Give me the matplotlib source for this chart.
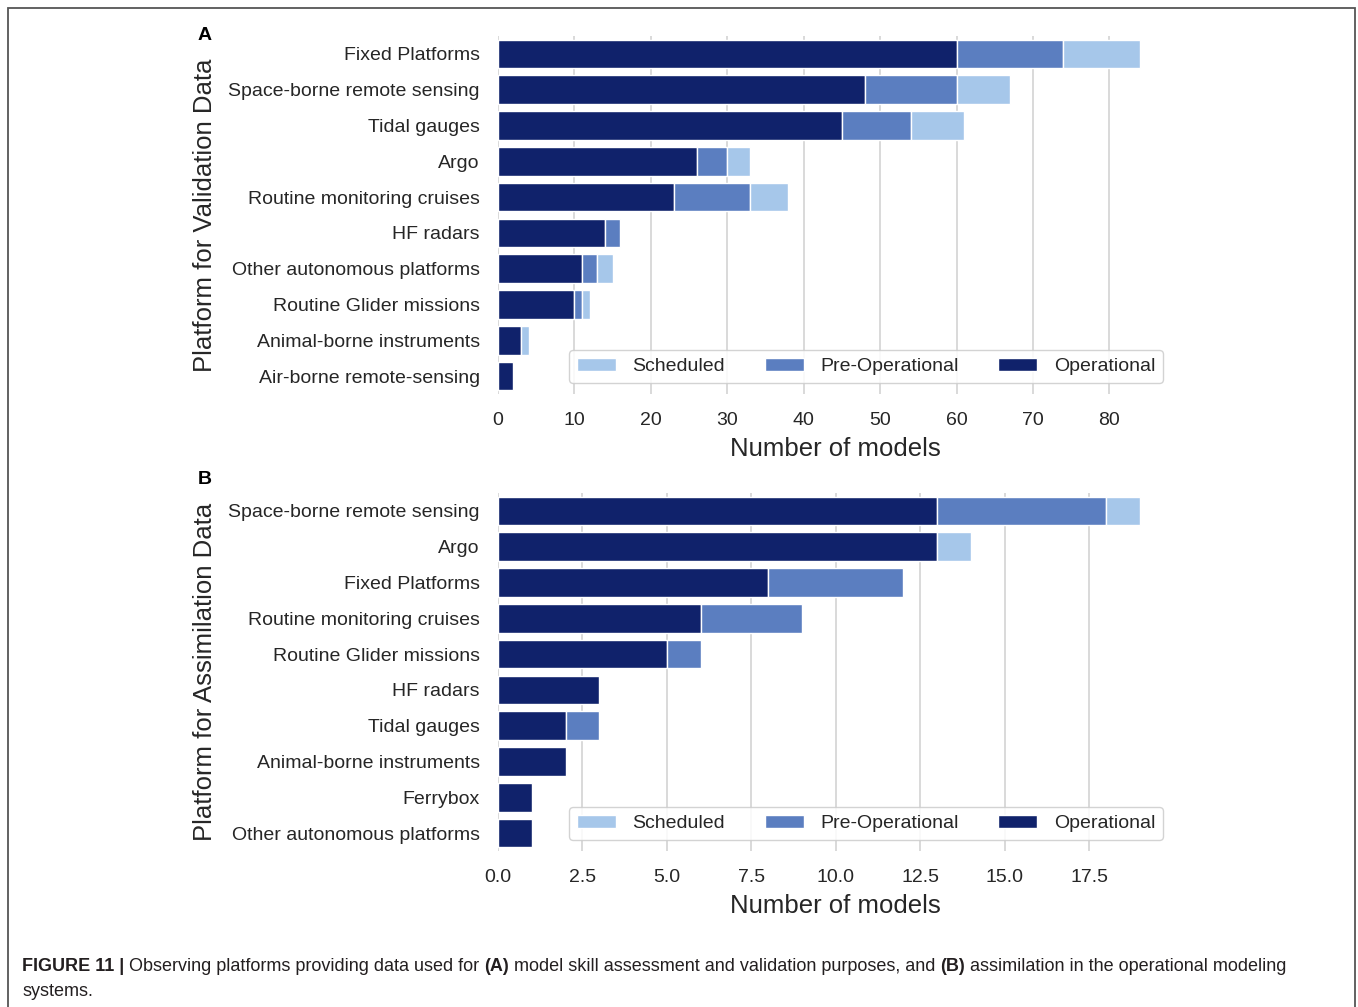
import matplotlib
matplotlib.use("Agg")
import matplotlib.pyplot as plt
from matplotlib.patches import Rectangle, Patch
import numpy as np

# ---------------- data ----------------
val_platforms = ["Fixed Platforms", "Space-borne remote sensing", "Tidal gauges", "Argo",
                 "Routine monitoring cruises", "HF radars", "Other autonomous platforms",
                 "Routine Glider missions", "Animal-borne instruments", "Air-borne remote-sensing"]
val_operational = [60, 48, 45, 26, 23, 14, 11, 10, 3, 2]
val_preoperational = [14, 12, 9, 4, 10, 2, 2, 1, 0, 0]
val_scheduled = [10, 7, 7, 3, 5, 0, 2, 1, 1, 0]
val_xticks = [0, 10, 20, 30, 40, 50, 60, 70, 80]

ass_platforms = ["Space-borne remote sensing", "Argo", "Fixed Platforms", "Routine monitoring cruises",
                 "Routine Glider missions", "HF radars", "Tidal gauges", "Animal-borne instruments",
                 "Ferrybox", "Other autonomous platforms"]
ass_operational = [13, 13, 8, 6, 5, 3, 2, 2, 1, 1]
ass_preoperational = [5, 0, 4, 3, 1, 0, 1, 0, 0, 0]
ass_scheduled = [1, 1, 0, 0, 0, 0, 0, 0, 0, 0]
ass_xticks = [0.0, 2.5, 5.0, 7.5, 10.0, 12.5, 15.0, 17.5]

status_labels = ["Scheduled", "Pre-Operational", "Operational"]
status_colors = ["#a6c7ea", "#5b7ec0", "#10226b"]

caption_parts = [("FIGURE 11 | ", True), ("Observing platforms providing data used for ", False),
                 ("(A)", True), (" model skill assessment and validation purposes, and ", False),
                 ("(B)", True), (" assimilation in the operational modeling", False)]
caption_line2 = "systems."

# ---------------- figure ----------------
W, H = 1358, 1007
fig = plt.figure(figsize=(W / 100, H / 100), dpi=100)
plt.rcParams['font.family'] = ['Liberation Sans', 'DejaVu Sans']
TXT = "#262626"


def px_axes(l, r, t, b):
    return fig.add_axes([l / W, 1 - b / H, (r - l) / W, (b - t) / H])


def draw_panel(ax, names, op, pre, sch, xticks, xmax):
    y = np.arange(len(names))
    op = np.array(op, float)
    pre = np.array(pre, float)
    sch = np.array(sch, float)
    segments = [(op, np.zeros_like(op), status_colors[2]),
                (pre, op, status_colors[1]),
                (sch, op + pre, status_colors[0])]
    for w, left, c in segments:
        m = w > 0
        ax.barh(y[m], w[m], left=left[m], height=0.8, color=c,
                edgecolor="white", linewidth=1.0, zorder=2)
    ax.set_ylim(len(names) - 0.5, -0.5)
    ax.set_xlim(0, xmax)
    ax.set_yticks(y)
    ax.set_yticklabels(names)
    ax.set_xticks(xticks)
    ax.set_xticklabels([f"{t:g}" if isinstance(t, int) else f"{t:.1f}" for t in xticks])
    ax.tick_params(axis='y', length=0, pad=13, labelsize=14, labelcolor=TXT)
    ax.tick_params(axis='x', length=0, pad=13, labelsize=14, labelcolor=TXT)
    for s in ax.spines.values():
        s.set_visible(False)
    ax.grid(axis='x', color="#d0d0d0", linewidth=1.1, zorder=0)
    ax.set_axisbelow(True)
    ax.set_xlabel("Number of models", fontsize=18.5, color=TXT, labelpad=6)
    handles = [Patch(facecolor=c, edgecolor="white") for c in status_colors]
    leg = ax.legend(handles, status_labels, ncol=3, loc="lower right",
                    bbox_to_anchor=(0.9866, 0.031), borderaxespad=0, fontsize=14,
                    frameon=True, fancybox=True, framealpha=0.85,
                    columnspacing=2.05, handletextpad=0.85, handlelength=2.0)
    leg.get_frame().set_edgecolor("#cccccc")
    for t in leg.get_texts():
        t.set_color(TXT)


axA = px_axes(498, 1172, 36, 394)
draw_panel(axA, val_platforms, val_operational, val_preoperational, val_scheduled,
           val_xticks, 88.2)
axB = px_axes(498, 1172, 493, 851)
draw_panel(axB, ass_platforms, ass_operational, ass_preoperational, ass_scheduled,
           ass_xticks, 19.95)

fig.text(205 / W, 1 - 215 / H, "Platform for Validation Data", rotation=90,
         ha="center", va="center", fontsize=18.5, color=TXT)
fig.text(205 / W, 1 - 672 / H, "Platform for Assimilation Data", rotation=90,
         ha="center", va="center", fontsize=18.5, color=TXT)
fig.text(205 / W, 1 - 35 / H, "A", ha="center", va="center", fontsize=14, fontweight="bold", color="black")
fig.text(205 / W, 1 - 480 / H, "B", ha="center", va="center", fontsize=14, fontweight="bold", color="black")

# frame around figure
fig.patches.append(Rectangle((8 / W, -0.05), (1355 - 8) / W, 1 - 8 / H + 0.05,
                             transform=fig.transFigure, fill=False,
                             edgecolor="#555555", linewidth=1.3))

# caption, pieces chained left to right
cap_fs = 13.0
cap_color = "#231f20"
fig.canvas.draw()
r = fig.canvas.get_renderer()
x_cur = 22.0
for txt, bold in caption_parts:
    t = fig.text(x_cur / W, 1 - 971 / H, txt, fontsize=cap_fs,
                 fontweight="bold" if bold else "normal", color=cap_color,
                 ha="left", va="baseline")
    x_cur = t.get_window_extent(r).x1
fig.text(22 / W, 1 - 996 / H, caption_line2, fontsize=cap_fs, color=cap_color,
         ha="left", va="baseline")

fig.savefig("out.png", dpi=100)
